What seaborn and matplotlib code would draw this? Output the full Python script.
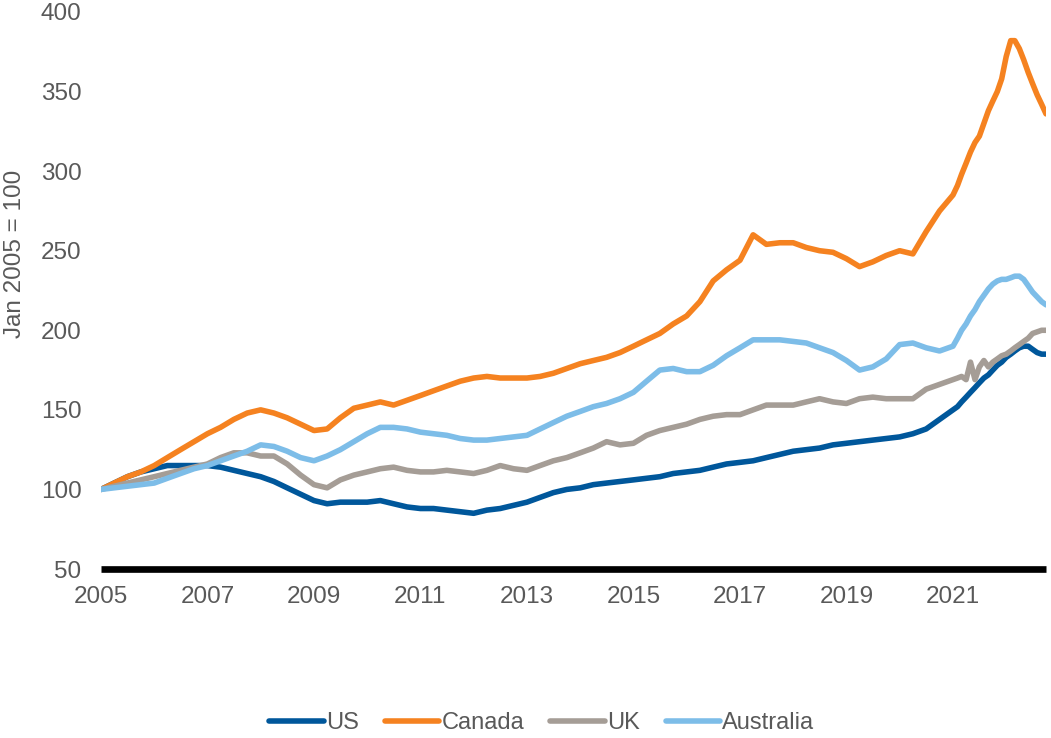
import numpy as np
import pandas as pd
import matplotlib
matplotlib.use('Agg')
import matplotlib.pyplot as plt
import matplotlib.dates as mdates
from matplotlib.lines import Line2D
import seaborn as sns

sns.set_theme(style='white')
plt.rcParams['font.family'] = ['Liberation Sans', 'DejaVu Sans']

# x positions: quarterly 2005-2020, monthly 2021 - Oct 2022
quarterly = pd.date_range('2005-01-01', '2020-10-01', freq='QS')
monthly = pd.date_range('2021-01-01', '2022-10-01', freq='MS')
dates = quarterly.append(monthly)

countries = ['US', 'Canada', 'UK', 'Australia']
colors = ['#00579B', '#F58220', '#A59D96', '#7DBDE8']

us = [100, 104, 108, 111, 113, 115, 115, 115, 115, 114, 112, 110,
      108, 105, 101, 97, 93, 91, 92, 92, 92, 93, 91, 89,
      88, 88, 87, 86, 85, 87, 88, 90, 92, 95, 98, 100,
      101, 103, 104, 105, 106, 107, 108, 110, 111, 112, 114, 116,
      117, 118, 120, 122, 124, 125, 126, 128, 129, 130, 131, 132,
      133, 135, 138, 144,
      150, 152, 155, 158, 161, 164, 167, 170, 172, 175, 178, 180,
      183, 185, 187, 189, 190, 190, 188, 186, 185, 185]

canada = [100, 104, 108, 111, 115, 120, 125, 130, 135, 139, 144, 148,
          150, 148, 145, 141, 137, 138, 145, 151, 153, 155, 153, 156,
          159, 162, 165, 168, 170, 171, 170, 170, 170, 171, 173, 176,
          179, 181, 183, 186, 190, 194, 198, 204, 209, 218, 231, 238,
          244, 260, 254, 255, 255, 252, 250, 249, 245, 240, 243, 247,
          250, 248, 262, 275,
          285, 291, 298, 305, 312, 318, 322, 330, 338, 344, 350, 358,
          372, 382, 382, 377, 370, 362, 355, 348, 342, 336]

uk = [100, 102, 104, 106, 108, 110, 112, 114, 116, 120, 123, 123,
      121, 121, 116, 109, 103, 101, 106, 109, 111, 113, 114, 112,
      111, 111, 112, 111, 110, 112, 115, 113, 112, 115, 118, 120,
      123, 126, 130, 128, 129, 134, 137, 139, 141, 144, 146, 147,
      147, 150, 153, 153, 153, 155, 157, 155, 154, 157, 158, 157,
      157, 157, 163, 166,
      169, 170, 171, 169, 180, 169, 177, 181, 177, 180, 182, 184,
      185, 187, 189, 191, 193, 195, 198, 199, 200, 200]

australia = [100, 101, 102, 103, 104, 107, 110, 113, 115, 118, 121, 124,
             128, 127, 124, 120, 118, 121, 125, 130, 135, 139, 139, 138,
             136, 135, 134, 132, 131, 131, 132, 133, 134, 138, 142, 146,
             149, 152, 154, 157, 161, 168, 175, 176, 174, 174, 178, 184,
             189, 194, 194, 194, 193, 192, 189, 186, 181, 175, 177, 182,
             191, 192, 189, 187,
             190, 195, 200, 204, 209, 213, 218, 222, 226, 229, 231, 232,
             232, 233, 234, 234, 232, 228, 224, 221, 218, 216]

year_ticks = ['2005', '2007', '2009', '2011', '2013', '2015', '2017', '2019', '2021']
y_ticks = [50, 100, 150, 200, 250, 300, 350, 400]

series = {'US': us, 'Canada': canada, 'UK': uk, 'Australia': australia}
df = pd.concat([pd.DataFrame({'date': dates, 'value': v, 'country': k})
                for k, v in series.items()], ignore_index=True)

fig = plt.figure(figsize=(10.51, 7.38), dpi=100)
ax = fig.add_axes([101 / 1051, 1 - 569 / 738, (1046 - 101) / 1051, (569 - 12) / 738])

sns.lineplot(data=df, x='date', y='value', hue='country', hue_order=countries,
             palette=colors, linewidth=4.0, legend=False, ax=ax,
             solid_capstyle='round', solid_joinstyle='round')

ax.set_ylim(50, 400)
ax.set_yticks(y_ticks)
ax.set_xlim(pd.Timestamp('2005-01-01'), pd.Timestamp('2022-10-01'))
ax.set_xticks([pd.Timestamp(f'{y}-01-01') for y in year_ticks])
ax.xaxis.set_major_formatter(mdates.DateFormatter('%Y'))
ax.grid(False)

for s in ['left', 'top', 'right']:
    ax.spines[s].set_visible(False)
ax.spines['bottom'].set_color('black')
ax.spines['bottom'].set_linewidth(4.8)
ax.spines['bottom'].set_capstyle('butt')

ax.tick_params(axis='both', length=0, labelsize=17.5, colors='#595959')
ax.tick_params(axis='y', pad=14)
ax.tick_params(axis='x', pad=12)

ax.set_xlabel('')
ax.set_ylabel('')
fig.text(15 / 1051, 1 - 254 / 738, 'Jan 2005 = 100', rotation=90, ha='center', va='center',
         fontsize=17.5, color='#595959')

handles = [Line2D([0], [0], color=c, lw=4.0, solid_capstyle='round') for c in colors]
fig.legend(handles, countries, loc='center', bbox_to_anchor=(542 / 1051, 15 / 738),
           ncol=4, frameon=False, fontsize=17, handlelength=2.3, handletextpad=0.1,
           columnspacing=1.1, labelcolor='#595959')

fig.savefig('out.png', dpi=100)
